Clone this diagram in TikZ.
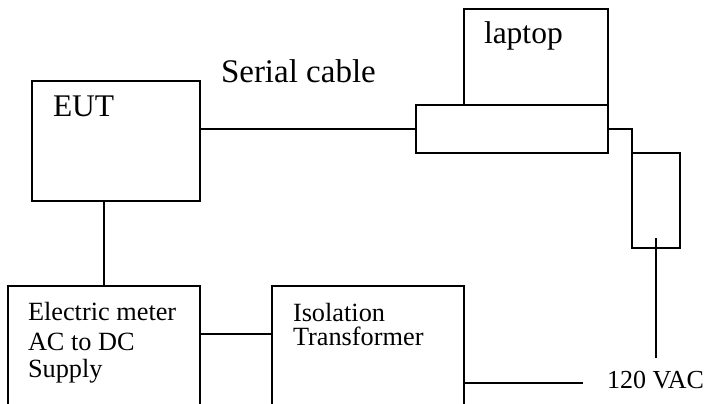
\documentclass[tikz,border=0pt]{standalone}
\usepackage{fontspec}
\setmainfont{Liberation Serif}
\begin{document}
\begin{tikzpicture}[x=1pt,y=-1pt,line width=1.6pt,
  blk/.style={draw,rectangle,anchor=north west,inner sep=0pt,outer sep=0pt},
  txt/.style={anchor=base west,inner sep=0pt,outer sep=0pt},
  big/.style={font=\fontsize{31.5}{33}\selectfont},
  mid/.style={font=\fontsize{26.3}{28}\selectfont},
  sml/.style={font=\fontsize{26}{27}\selectfont}]
\useasboundingbox (0,0) rectangle (707,404);
\clip (0,0) rectangle (707,404);
% boxes
\node[blk,minimum width=168pt,minimum height=120pt] (eut) at (32,81) {};
\node[blk,minimum width=144pt,minimum height=96pt] (screen) at (464,9) {};
\node[blk,minimum width=192pt,minimum height=48pt] (base) at (416,105) {};
\node[blk,minimum width=48pt,minimum height=95pt] (plug) at (632,153) {};
\node[blk,minimum width=192pt,minimum height=130pt] (meter) at (8,286) {};
\node[blk,minimum width=192pt,minimum height=130pt] (iso) at (272,286) {};
% texts
\node[txt,big] (teut) at (53,117) {EUT};
\node[txt,big] (tlap) at (484,44) {laptop};
\node[txt,font=\fontsize{33}{34}\selectfont] (tser) at (221,82) {Serial cable};
\node[txt,mid] (tm1) at (28,320.5) {Electric meter};
\node[txt,mid] (tm2) at (28,350) {AC to DC};
\node[txt,mid] (tm3) at (28,377.5) {Supply};
\node[txt,mid] (ti1) at (293,321) {Isolation};
\node[txt,mid] (ti2) at (293,345) {Transformer};
\node[txt,sml] (vac) at (607,388) {120 VAC};
% connectors
\coordinate (isoout) at (464,383);
\coordinate (vacin) at (583,383);
\coordinate (plugin) at (656,238);
\coordinate (plugout) at (656,358);
\coordinate (mlink) at (200,334);
\draw (base.west) -- (base.west -| eut.east);
\draw (base.east) -| (plug.north west);
\draw (meter.north) -- (meter.north |- eut.south);
\draw (mlink) -- (mlink -| iso.west);
\draw (isoout) -- (vacin);
\draw (plugin) -- (plugout);
\end{tikzpicture}
\end{document}
